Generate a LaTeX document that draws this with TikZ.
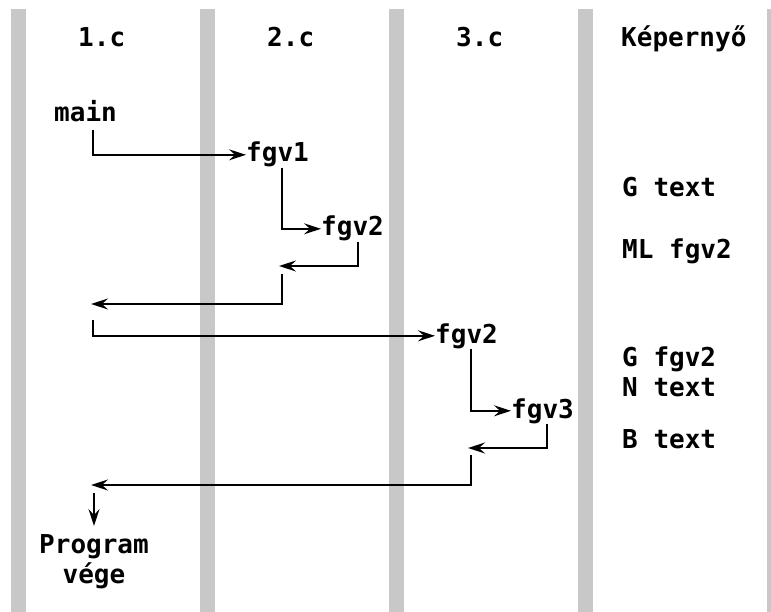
\documentclass[tikz,border=0pt]{standalone}
\usepackage{fontspec}
\setmonofont{DejaVu Sans Mono}
\usetikzlibrary{arrows.meta}
\definecolor{barcol}{RGB}{200,200,200}
\begin{document}
\begin{tikzpicture}[x=1pt,y=-1pt,
  lbl/.style={font=\ttfamily\bfseries\fontsize{26}{30}\selectfont, inner sep=0pt, anchor=base west},
  arr/.style={line width=1.7pt, -{Stealth[length=17pt,width=11pt,inset=6pt]}}]
\useasboundingbox (0,0) rectangle (771,612);
\begin{scope}
\clip (0,0) rectangle (771,612);
\foreach \x in {11,200,389,578,767} \fill[barcol] (\x,9) rectangle ++(14.5,603);
\end{scope}
% titles
\node[lbl] (t1) at (78,47) {1.c};
\node[lbl] (t2) at (267,47) {2.c};
\node[lbl] (t3) at (456,47) {3.c};
\node[lbl] (t4) at (621,47) {Képernyő};
% calls
\node[lbl] (main) at (54,122) {main};
\node[lbl] (f1) at (246,162) {fgv1};
\node[lbl] (f2a) at (321,236) {fgv2};
\node[lbl] (f2b) at (435,343) {fgv2};
\node[lbl] (f3) at (511,418) {fgv3};
\node[lbl, anchor=north, align=center] (end) at (94,534) {Program\\vége};
% screen
\node[lbl] (s1) at (622,197) {G text};
\node[lbl] (s2) at (622,259) {ML fgv2};
\node[lbl] (s3) at (622,366) {G fgv2};
\node[lbl] (s4) at (622,396) {N text};
\node[lbl] (s5) at (622,448) {B text};
% free ends
\coordinate (r1) at (279,266);
\coordinate (r1s) at (282,274);
\coordinate (r2) at (91,304);
\coordinate (c2) at (93,320);
\coordinate (r3) at (468,448);
\coordinate (r3s) at (471,455);
\coordinate (r4) at (91,485);
\coordinate (c4) at (94,493);
% connectors
\draw[arr] ([xshift=39pt,yshift=-8pt]main.base west) |- (f1.west);
\draw[arr] ([xshift=36pt]f1.south west) |- (f2a.west);
\draw[arr] ([xshift=37pt]f2a.south west) |- (r1);
\draw[arr] (r1s) |- (r2);
\draw[arr] (c2) |- (f2b.west);
\draw[arr] ([xshift=36pt]f2b.south west) |- (f3.west);
\draw[arr] ([xshift=36pt]f3.south west) |- (r3);
\draw[arr] (r3s) |- (r4);
\draw[arr] (c4) -- ([yshift=8pt]end.north -| c4);
\end{tikzpicture}
\end{document}
